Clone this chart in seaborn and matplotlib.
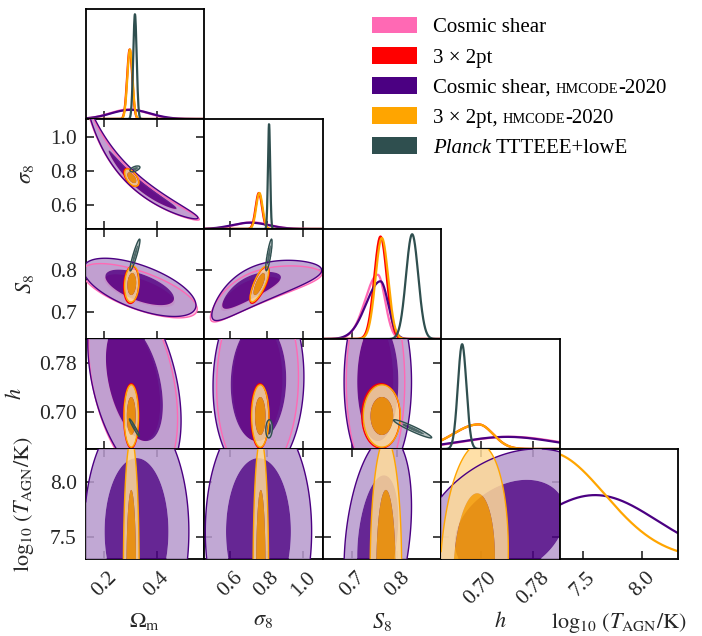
import numpy as np
import pandas as pd
import matplotlib
matplotlib.use("Agg")
import matplotlib.pyplot as plt
import seaborn as sns
from matplotlib.offsetbox import AnchoredOffsetbox, DrawingArea, HPacker, TextArea
from matplotlib.patches import Rectangle
from matplotlib.colors import to_rgb

# ------------------------------------------------------------------ data
DATASETS = ["Cosmic shear", "3x2pt", "Cosmic shear, HMcode-2020",
            "3x2pt, HMcode-2020", "Planck TTTEEE+lowE"]
COLORS = ["#FF69B4", "#FF0000", "#4B0082", "#FFA500", "#2F4F4F"]

PARAM_LABELS = [r"$\Omega_{\rm m}$", r"$\sigma_8$", r"$S_8$", r"$h$",
                r"$\log_{10}\,(T_{\rm AGN}/{\rm K})$"]
AXIS_LIMITS = [(0.13, 0.58), (0.458, 1.106), (0.635, 0.897), (0.64, 0.82), (7.3, 8.3)]
TICK_VALUES = [[0.2, 0.4], [0.6, 0.8, 1.0], [0.7, 0.8], [0.70, 0.78], [7.5, 8.0]]
TICK_LABELS = [["0.2", "0.4"], ["0.6", "0.8", "1.0"], ["0.7", "0.8"],
               ["0.70", "0.78"], ["7.5", "8.0"]]
XLABEL_PADS = [7.5, 7.5, 7.5, 2.5, 7.5]

# 1D marginals per dataset (pink, red, purple, orange, planck):
# (mean, sd below mean, sd above mean); None = parameter not sampled
om_1d = [(0.295, 0.072, 0.072), (0.297, 0.0098, 0.0098), (0.300, 0.075, 0.075),
         (0.298, 0.0098, 0.0098), (0.317, 0.0065, 0.0065)]
sigma8_1d = [(0.720, 0.095, 0.095), (0.757, 0.0175, 0.0175), (0.710, 0.100, 0.100),
             (0.760, 0.0175, 0.0175), (0.813, 0.0060, 0.0060)]
S8_1d = [(0.757, 0.028, 0.016), (0.763, 0.0138, 0.0138), (0.763, 0.032, 0.017),
         (0.766, 0.0140, 0.0140), (0.833, 0.0135, 0.0135)]
h_1d = [(0.745, 0.071, 0.071), (0.697, 0.039, 0.022), (0.740, 0.071, 0.071),
        (0.697, 0.039, 0.022), (0.672, 0.0065, 0.0065)]
logT_1d = [None, None, (7.60, 0.52, 0.52), (7.20, 0.48, 0.48), None]
MARGINALS_1D = [om_1d, sigma8_1d, S8_1d, h_1d, logT_1d]

# 2D posteriors per dataset: [mean_x, mean_y, sd_x, sd_y, correlation]
om_S8_2d = [[0.335, 0.750, 0.088, 0.0260, -0.68],
            [0.303, 0.764, 0.0115, 0.0178, 0.12],
            [0.335, 0.758, 0.086, 0.0279, -0.616],
            [0.305, 0.766, 0.0110, 0.0173, 0.12],
            [0.317, 0.835, 0.0077, 0.0153, 0.92]]
om_h_2d = [[0.310, 0.750, 0.068, 0.064, -0.38],
           [0.303, 0.694, 0.0115, 0.0212, 0.0],
           [0.315, 0.750, 0.0713, 0.064, -0.40],
           [0.303, 0.694, 0.0110, 0.0205, 0.0],
           [0.315, 0.675, 0.0077, 0.0058, -0.97]]
sigma8_h_2d = [[0.750, 0.750, 0.090, 0.064, 0.05],
               [0.763, 0.694, 0.0195, 0.0212, 0.0],
               [0.755, 0.750, 0.100, 0.064, 0.05],
               [0.765, 0.694, 0.0190, 0.0205, 0.0],
               [0.813, 0.673, 0.0072, 0.0060, 0.10]]
S8_h_2d = [[0.752, 0.750, 0.026, 0.064, 0.0],
           [0.764, 0.694, 0.0170, 0.0212, 0.0],
           [0.757, 0.750, 0.030, 0.064, 0.0],
           [0.766, 0.694, 0.0165, 0.0205, 0.0],
           [0.834, 0.673, 0.0170, 0.0060, -0.95]]
om_logT_2d = [None, None, [0.323, 7.55, 0.080, 0.44, 0.0], [0.303, 7.20, 0.012, 0.48, 0.0], None]
sigma8_logT_2d = [None, None, [0.755, 7.55, 0.117, 0.44, 0.0], [0.768, 7.20, 0.017, 0.48, 0.0], None]
S8_logT_2d = [None, None, [0.757, 7.50, 0.030, 0.37, 0.3], [0.775, 7.20, 0.014, 0.48, 0.0], None]
h_logT_2d = [None, None, [0.745, 7.58, 0.0555, 0.29, 0.30], [0.690, 7.20, 0.021, 0.46, 0.15], None]

S8_PIVOT = 0.3               # S8 = sigma8 * sqrt(Omega_m / 0.3)
CHI2_LEVELS = [2.30, 6.18]   # 68% and 95% for two parameters
MASS_LEVELS = [0.68, 0.95]

# (row, col) -> (posterior table, coordinate mapping to its own parameters)
PANELS = {(1, 0): (om_S8_2d, "om_sigma8"), (2, 0): (om_S8_2d, None),
          (2, 1): (om_S8_2d, "sigma8_S8"), (3, 0): (om_h_2d, None),
          (3, 1): (sigma8_h_2d, None), (3, 2): (S8_h_2d, None),
          (4, 0): (om_logT_2d, None), (4, 1): (sigma8_logT_2d, None),
          (4, 2): (S8_logT_2d, None), (4, 3): (h_logT_2d, None)}
WIDE_GRIDS = {"om_sigma8": ((0.02, 1.2), (0.2, 2.4)),
              "sigma8_S8": ((0.2, 2.4), (0.45, 1.05))}

# ------------------------------------------------------------------ style
sns.set_theme(style="ticks")
plt.rcParams["font.family"] = ["Liberation Serif", "DejaVu Serif"]
plt.rcParams["mathtext.fontset"] = "stix"
plt.rcParams["axes.linewidth"] = 1.3
plt.rcParams["axes.facecolor"] = "white"
plt.rcParams["contour.negative_linestyle"] = "solid"

TICK_SIZE = 15.5
LABEL_SIZE = 16


def light(c):
    r = np.array(to_rgb(c))
    return tuple(0.4 * r + 0.6)


def to_base(kind, X, Y):
    """Map panel coordinates to (Omega_m, S8) and return the Jacobian."""
    if kind == "om_sigma8":
        return X, Y * np.sqrt(X / S8_PIVOT), np.sqrt(X / S8_PIVOT)
    if kind == "sigma8_S8":
        return S8_PIVOT * (Y / X) ** 2, Y, 2 * S8_PIVOT * Y ** 2 / X ** 3
    return X, Y, np.ones_like(X)


def mahal(P, Q, p):
    mx, my, sx, sy, r = p
    u = (P - mx) / sx
    v = (Q - my) / sy
    return (u * u - 2 * r * u * v + v * v) / (1 - r * r)


def mass_thresholds(Z, fracs):
    z = np.sort(Z.ravel())[::-1]
    c = np.cumsum(z)
    c = c / c[-1]
    return [z[min(np.searchsorted(c, f), z.size - 1)] for f in fracs]


def split_normal(x, m, slo, shi):
    s = np.where(x < m, slo, shi)
    return np.exp(-0.5 * ((x - m) / s) ** 2)


N = 5
fig, axes = plt.subplots(N, N, figsize=(7.02, 6.36), dpi=100)
fig.patch.set_facecolor("white")
fig.subplots_adjust(left=0.1221, right=0.9658, top=0.9858, bottom=0.1211,
                    wspace=0, hspace=0)

for i in range(N):
    for j in range(N):
        ax = axes[i, j]
        if j > i:
            ax.set_visible(False)
            continue
        for s in ax.spines.values():
            s.set_linewidth(1.3)
            s.set_color("black")
        if i == j:
            lo, hi = AXIS_LIMITS[j]
            x = np.linspace(lo, hi, 500)
            rows = []
            for k, p in enumerate(MARGINALS_1D[j]):
                if p is None:
                    continue
                d = split_normal(x, *p)
                d = d / np.trapezoid(d, x)
                rows.append(pd.DataFrame({"x": x, "density": d, "dataset": DATASETS[k]}))
            df = pd.concat(rows, ignore_index=True)
            order = [DATASETS[k] for k, p in enumerate(MARGINALS_1D[j]) if p is not None]
            pal = {DATASETS[k]: COLORS[k] for k in range(len(DATASETS))}
            sns.lineplot(data=df, x="x", y="density", hue="dataset", hue_order=order,
                         palette=pal, estimator=None, sort=False, lw=1.6,
                         legend=False, ax=ax)
            ax.set_ylim(0, 1.05 * df["density"].max())
            ax.set_yticks([])
            ax.tick_params(axis="x", direction="in", bottom=True, top=False,
                           length=6, width=1.2, labelsize=TICK_SIZE, pad=6.5)
        else:
            table, kind = PANELS[(i, j)]
            if kind is None:
                gx = np.linspace(*AXIS_LIMITS[j], 400)
                gy = np.linspace(*AXIS_LIMITS[i], 400)
            else:
                gx = np.linspace(*WIDE_GRIDS[kind][0], 700)
                gy = np.linspace(*WIDE_GRIDS[kind][1], 700)
            X, Y = np.meshgrid(gx, gy)
            P, Q, J = to_base(kind, X, Y)
            fields = []
            for k, p in enumerate(table):
                if p is None:
                    fields.append(None)
                    continue
                D = mahal(P, Q, p)
                if kind is None:
                    Z = -D
                    lv = [-CHI2_LEVELS[1], -CHI2_LEVELS[0], 1.0]
                else:
                    Z = np.exp(-0.5 * D) * J
                    t68, t95 = mass_thresholds(Z, MASS_LEVELS)
                    lv = [t95, t68, Z.max() * 1.01 + 1e-300]
                fields.append((Z, lv))
                ax.contourf(X, Y, Z, levels=lv,
                            colors=[light(COLORS[k]), COLORS[k]],
                            alpha=1.0 if k == 0 else 0.85, zorder=1 + k,
                            antialiased=True)
            for k, f in enumerate(fields):
                if f is None:
                    continue
                Z, lv = f
                ax.contour(X, Y, Z, levels=[lv[0]], colors=[COLORS[k]],
                           linewidths=1.0, linestyles="solid", zorder=10 + k)
            ax.set_ylim(AXIS_LIMITS[i])
            ax.set_yticks(TICK_VALUES[i])
            ax.set_yticklabels(TICK_LABELS[i])
            ax.tick_params(axis="both", direction="in", top=True, right=True,
                           bottom=True, left=True, length=6, width=1.2,
                           labelsize=TICK_SIZE, pad=6.5)
        ax.set_xlim(AXIS_LIMITS[j])
        ax.set_xticks(TICK_VALUES[j])
        ax.set_xticklabels(TICK_LABELS[j])
        ax.set_xlabel("")
        ax.set_ylabel("")
        if i == N - 1:
            ax.tick_params(axis="x", labelbottom=True)
            for t in ax.get_xticklabels():
                t.set_rotation(45)
                t.set_ha("center")
            ax.set_xlabel(PARAM_LABELS[j], fontsize=LABEL_SIZE, labelpad=XLABEL_PADS[j])
        else:
            ax.tick_params(axis="x", labelbottom=False)
        if j == 0 and i > 0:
            ax.tick_params(axis="y", labelleft=True)
            ax.set_ylabel(PARAM_LABELS[i], fontsize=LABEL_SIZE, labelpad=9.5)
        else:
            ax.tick_params(axis="y", labelleft=False)

# ------------------------------------------------------------------ legend
LEG_SIZE = 15
SC_SIZE = 10.4
legend_rows = [
    [("Cosmic shear", {})],
    [("3 \u00d7 2pt", {})],
    [("Cosmic shear,", {}), ("HMCODE", {"size": SC_SIZE}), ("-2020", {})],
    [("3 \u00d7 2pt,", {}), ("HMCODE", {"size": SC_SIZE}), ("-2020", {})],
    [("Planck", {"style": "italic"}), ("TTTEEE+lowE", {})],
]
row_y_px = [27, 57.5, 87.5, 117.5, 147.5]
for k, pieces in enumerate(legend_rows):
    da = DrawingArea(32.4, 12.2, 0, 0.7)
    da.add_artist(Rectangle((0, -0.7), 32.4, 12.2, facecolor=COLORS[k],
                            edgecolor="none"))
    tas = []
    for txt, props in pieces:
        tp = {"size": LEG_SIZE, "color": "black"}
        tp.update(props)
        tas.append(TextArea(txt, textprops=tp))
    if len(tas) == 1:
        text_box = tas[0]
    elif len(tas) == 2:
        text_box = HPacker(children=tas, sep=3.8, align="baseline", pad=0)
    else:
        inner = HPacker(children=tas[1:], sep=0, align="baseline", pad=0)
        text_box = HPacker(children=[tas[0], inner], sep=3.8, align="baseline", pad=0)
    row = HPacker(children=[da, text_box], sep=11.5, align="baseline", pad=0)
    anch = AnchoredOffsetbox(loc="center left", child=row, pad=0, borderpad=0,
                             frameon=False,
                             bbox_to_anchor=(371.7 / 702, 1 - row_y_px[k] / 636),
                             bbox_transform=fig.transFigure)
    fig.add_artist(anch)

fig.savefig("out.png", dpi=100, facecolor="white")
